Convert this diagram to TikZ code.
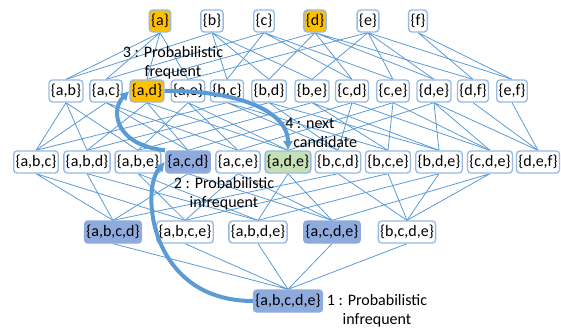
\documentclass[tikz,border=0pt]{standalone}
\usepackage{fontspec}
\setmainfont{Carlito}
\usepackage{xcolor}
\usetikzlibrary{arrows.meta, backgrounds}
\definecolor{linkblue}{RGB}{91,155,213}
\definecolor{boxblue}{RGB}{150,186,228}
\definecolor{setgold}{RGB}{255,192,0}
\definecolor{setblue}{RGB}{143,170,220}
\definecolor{setgreen}{RGB}{197,224,180}

\tikzset{
    itemset/.style={draw=boxblue, line width=1pt, rounded corners=2.5pt, fill=white,
        inner xsep=1.4pt, inner ysep=1pt, minimum height=16.5pt, font=\fontsize{12}{14}\selectfont},
    edge/.style={draw=linkblue, line width=0.6pt},
    route/.style={draw=linkblue, line width=3pt, -{Latex[length=7pt,width=8pt]}},
    note/.style={align=center, font=\fontsize{12}{14.5}\selectfont, inner sep=0pt}
}

\begin{document}
\begin{tikzpicture}[x=0.75pt, y=-0.75pt]
    \useasboundingbox (0,0) rectangle (561,332);

    % Singletons
    \node[itemset, fill=setgold] (a) at (160,21) {\{a\}};
    \node[itemset] (b) at (212,21) {\{b\}};
    \node[itemset] (c) at (264,21) {\{c\}};
    \node[itemset, fill=setgold] (d) at (315,21) {\{d\}};
    \node[itemset] (e) at (368,21) {\{e\}};
    \node[itemset] (f) at (418,21) {\{f\}};

    % Pairs
    \node[itemset] (ab) at (66,91) {\{a,b\}};
    \node[itemset] (ac) at (106,91) {\{a,c\}};
    \node[itemset, fill=setgold] (ad) at (147,91) {\{a,d\}};
    \node[itemset] (ae) at (188,91) {\{a,e\}};
    \node[itemset] (bc) at (227,91) {\{b,c\}};
    \node[itemset] (bd) at (269,91) {\{b,d\}};
    \node[itemset] (be) at (312,91) {\{b,e\}};
    \node[itemset] (cd) at (352,91) {\{c,d\}};
    \node[itemset] (ce) at (393,91) {\{c,e\}};
    \node[itemset] (de) at (434,91) {\{d,e\}};
    \node[itemset] (df) at (473,91) {\{d,f\}};
    \node[itemset] (ef) at (512,91) {\{e,f\}};

    % Triples
    \node[itemset] (abc) at (36,162) {\{a,b,c\}};
    \node[itemset] (abd) at (87,162) {\{a,b,d\}};
    \node[itemset] (abe) at (138,162) {\{a,b,e\}};
    \node[itemset, fill=setblue, draw=setblue] (acd) at (188,162) {\{a,c,d\}};
    \node[itemset] (ace) at (238,162) {\{a,c,e\}};
    \node[itemset, fill=setgreen] (ade) at (288,162) {\{a,d,e\}};
    \node[itemset] (bcd) at (338,162) {\{b,c,d\}};
    \node[itemset] (bce) at (388,162) {\{b,c,e\}};
    \node[itemset] (bde) at (439,162) {\{b,d,e\}};
    \node[itemset] (cde) at (490,162) {\{c,d,e\}};
    \node[itemset] (def) at (538,162) {\{d,e,f\}};

    % Quadruples and the full set
    \node[itemset, fill=setblue, draw=setblue] (abcd) at (113,232) {\{a,b,c,d\}};
    \node[itemset] (abce) at (185,232) {\{a,b,c,e\}};
    \node[itemset] (abde) at (258,232) {\{a,b,d,e\}};
    \node[itemset, fill=setblue, draw=setblue] (acde) at (332,232) {\{a,c,d,e\}};
    \node[itemset] (bcde) at (407,232) {\{b,c,d,e\}};
    \node[itemset, fill=setblue, draw=setblue] (abcde) at (288,301) {\{a,b,c,d,e\}};

    % Draw edges behind the boxes
    \begin{scope}[on background layer]
    \draw[edge] (a.south) -- (ab.north) (a.south) -- (ac.north) (a.south) -- (ad.north) (a.south) -- (ae.north);
    \draw[edge] (b.south) -- (ab.north) (b.south) -- (bc.north) (b.south) -- (bd.north) (b.south) -- (be.north);
    \draw[edge] (c.south) -- (ac.north) (c.south) -- (bc.north) (c.south) -- (cd.north) (c.south) -- (ce.north);
    \draw[edge] (d.south) -- (ad.north) (d.south) -- (bd.north) (d.south) -- (cd.north) (d.south) -- (de.north) (d.south) -- (df.north);
    \draw[edge] (e.south) -- (ae.north) (e.south) -- (be.north) (e.south) -- (ce.north) (e.south) -- (de.north) (e.south) -- (ef.north);
    \draw[edge] (f.south) -- (df.north) (f.south) -- (ef.north);

    \draw[edge] (ab.south) -- (abc.north) (ab.south) -- (abd.north) (ab.south) -- (abe.north);
    \draw[edge] (ac.south) -- (abc.north) (ac.south) -- (acd.north) (ac.south) -- (ace.north);
    \draw[edge] (ad.south) -- (abd.north) (ad.south) -- (acd.north) (ad.south) -- (ade.north);
    \draw[edge] (ae.south) -- (abe.north) (ae.south) -- (ace.north) (ae.south) -- (ade.north);
    \draw[edge] (bc.south) -- (abc.north) (bc.south) -- (bcd.north) (bc.south) -- (bce.north);
    \draw[edge] (bd.south) -- (abd.north) (bd.south) -- (bcd.north) (bd.south) -- (bde.north);
    \draw[edge] (be.south) -- (abe.north) (be.south) -- (bce.north) (be.south) -- (bde.north);
    \draw[edge] (cd.south) -- (acd.north) (cd.south) -- (bcd.north) (cd.south) -- (cde.north);
    \draw[edge] (ce.south) -- (ace.north) (ce.south) -- (bce.north) (ce.south) -- (cde.north);
    \draw[edge] (de.south) -- (ade.north) (de.south) -- (bde.north) (de.south) -- (cde.north) (de.south) -- (def.north);
    \draw[edge] (df.south) -- (def.north);
    \draw[edge] (ef.south) -- (def.north);

    \draw[edge] (abc.south) -- (abcd.north) (abc.south) -- (abce.north);
    \draw[edge] (abd.south) -- (abcd.north) (abd.south) -- (abde.north);
    \draw[edge] (abe.south) -- (abce.north) (abe.south) -- (abde.north);
    \draw[edge] (acd.south) -- (abcd.north) (acd.south) -- (acde.north);
    \draw[edge] (ace.south) -- (abce.north) (ace.south) -- (acde.north);
    \draw[edge] (ade.south) -- (abde.north) (ade.south) -- (acde.north);
    \draw[edge] (bcd.south) -- (abcd.north) (bcd.south) -- (bcde.north);
    \draw[edge] (bce.south) -- (abce.north) (bce.south) -- (bcde.north);
    \draw[edge] (bde.south) -- (abde.north) (bde.south) -- (bcde.north);
    \draw[edge] (cde.south) -- (acde.north) (cde.south) -- (bcde.north);

    \draw[edge] (abcd.south) -- (abcde.north) (abce.south) -- (abcde.north) (abde.south) -- (abcde.north)
        (acde.south) -- (abcde.north) (bcde.south) -- (abcde.north);
    \end{scope}

    % Search steps
    \draw[route] (abcde.west) .. controls (150,301) and (140,190) .. (acd.west);
    \draw[route] (acd.north west) .. controls (115,145) and (110,110) .. (ad.west);
    \draw[route] (ad.east) .. controls (235,90) and (288,110) .. (ade.north);

    % Step labels
    \node[note] (n1) at (377,311) {1 : Probabilistic\\infrequent};
    \node[note] (n2) at (224,194) {2 : Probabilistic\\infrequent};
    \node[note] (n3) at (173,63) {3 : Probabilistic\\frequent};
    \node[note, align=left, anchor=west] (n4) at (285,133) {4 : next\\\hspace*{6pt}candidate};
\end{tikzpicture}
\end{document}
